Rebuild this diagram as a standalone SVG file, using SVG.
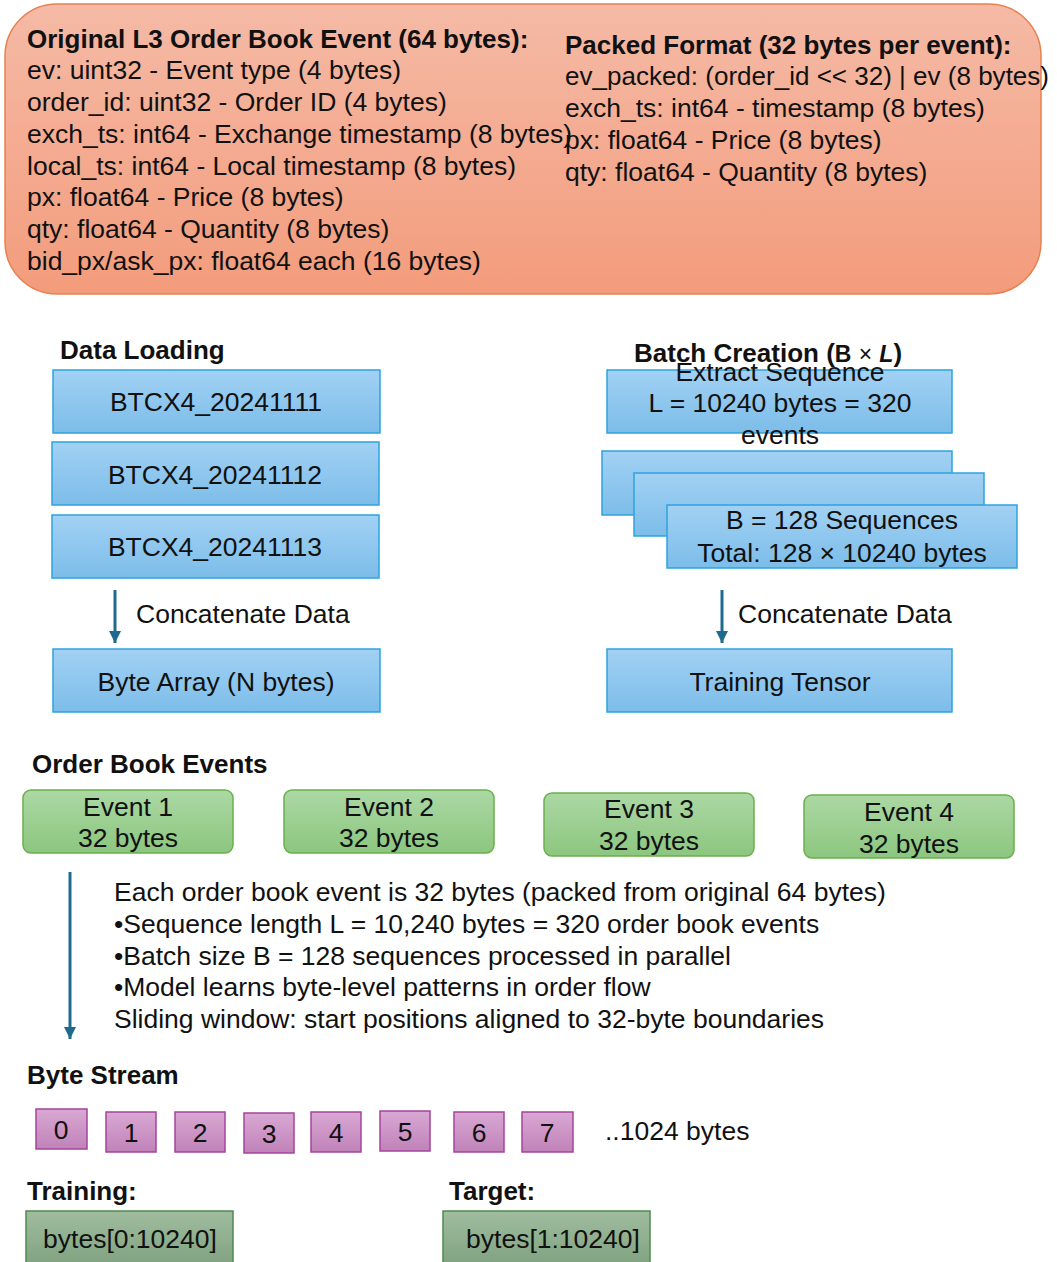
<svg xmlns="http://www.w3.org/2000/svg" width="1057" height="1262" viewBox="0 0 1057 1262">
<defs>
<linearGradient id="gOr" x1="0" y1="0" x2="0" y2="1"><stop offset="0" stop-color="#f5baa6"/><stop offset="1" stop-color="#f39c7c"/></linearGradient>
<linearGradient id="gBl" x1="0" y1="0" x2="0" y2="1"><stop offset="0" stop-color="#a2d1f4"/><stop offset="1" stop-color="#7cbde9"/></linearGradient>
<linearGradient id="gGr" x1="0" y1="0" x2="0" y2="1"><stop offset="0" stop-color="#acd8a4"/><stop offset="1" stop-color="#8cc67f"/></linearGradient>
<linearGradient id="gPu" x1="0" y1="0" x2="0" y2="1"><stop offset="0" stop-color="#d9a8d3"/><stop offset="1" stop-color="#c082b9"/></linearGradient>
<linearGradient id="gSg" x1="0" y1="0" x2="0" y2="1"><stop offset="0" stop-color="#a0bd9f"/><stop offset="1" stop-color="#7c9f7c"/></linearGradient>
<marker id="ah" viewBox="0 0 10 10" refX="10" refY="5" markerWidth="4" markerHeight="4" orient="auto" markerUnits="strokeWidth"><path d="M0,0 L10,5 L0,10 z" fill="#1f6a8f"/></marker>
</defs>
<style>
text{font-family:"Liberation Sans",Arial,sans-serif;font-size:26.5px;fill:#111}
.b{font-weight:bold;font-size:26px}
.m{text-anchor:middle}
.blue{fill:url(#gBl);stroke:#2ea3dd;stroke-width:1.5}
.green{fill:url(#gGr);stroke:#6ab04c;stroke-width:1.5}
.pur{fill:url(#gPu);stroke:#a5449c;stroke-width:1.5}
.sg{fill:url(#gSg);stroke:#4f8a4f;stroke-width:1.5}
.conn{stroke:#1f6a8f;stroke-width:3;fill:none;marker-end:url(#ah)}
</style>

<g id="event-format">
<rect x="5" y="4" width="1036" height="290" rx="52" fill="url(#gOr)" stroke="#e8804f" stroke-width="1.5"/>
<text x="27" y="48" class="b">Original L3 Order Book Event (64 bytes):</text>
<text x="27" y="79">ev: uint32 - Event type (4 bytes)</text>
<text x="27" y="111">order_id: uint32 - Order ID (4 bytes)</text>
<text x="27" y="143">exch_ts: int64 - Exchange timestamp (8 bytes)</text>
<text x="27" y="175">local_ts: int64 - Local timestamp (8 bytes)</text>
<text x="27" y="206">px: float64 - Price (8 bytes)</text>
<text x="27" y="238">qty: float64 - Quantity (8 bytes)</text>
<text x="27" y="270">bid_px/ask_px: float64 each (16 bytes)</text>
<text x="565" y="54" class="b">Packed Format (32 bytes per event):</text>
<text x="565" y="85" textLength="484" lengthAdjust="spacingAndGlyphs">ev_packed: (order_id &lt;&lt; 32) | ev (8 bytes)</text>
<text x="565" y="117">exch_ts: int64 - timestamp (8 bytes)</text>
<text x="565" y="149">px: float64 - Price (8 bytes)</text>
<text x="565" y="181">qty: float64 - Quantity (8 bytes)</text>
</g>

<g id="data-loading">
<text x="60" y="359" class="b">Data Loading</text>
</g>
<g id="file1"><rect x="53" y="370" width="327" height="63" class="blue"/><text x="216" y="411" class="m">BTCX4_20241111</text></g>
<g id="file2"><rect x="52" y="442" width="327" height="63" class="blue"/><text x="215" y="484" class="m">BTCX4_20241112</text></g>
<g id="file3"><rect x="52" y="515" width="327" height="63" class="blue"/><text x="215" y="556" class="m">BTCX4_20241113</text></g>
<g id="byte-array"><rect x="53" y="649" width="327" height="63" class="blue"/><text x="216" y="691" class="m">Byte Array (N bytes)</text></g>

<g id="batch-creation">
<text x="634" y="362" class="b">Batch Creation (<tspan font-size="23">B</tspan> <tspan font-size="23" font-weight="normal">×</tspan> <tspan font-size="23" font-style="italic">L</tspan>)</text>
</g>
<g id="extract-seq"><rect x="607" y="370" width="345" height="63" class="blue"/>
<text x="780" y="381" class="m">Extract Sequence</text>
<text x="780" y="412" class="m">L = 10240 bytes = 320</text>
<text x="780" y="444" class="m">events</text></g>
<g id="batch-stack">
<rect x="602" y="451" width="350" height="64" class="blue"/>
<rect x="634" y="473" width="350" height="63" class="blue"/>
<rect x="667" y="505" width="350" height="63" class="blue"/>
<text x="842" y="529" class="m">B = 128 Sequences</text>
<text x="842" y="562" class="m">Total: 128 × 10240 bytes</text>
</g>
<g id="training-tensor"><rect x="607" y="649" width="345" height="63" class="blue"/><text x="780" y="691" class="m">Training Tensor</text></g>

<g id="order-book-events"><text x="32" y="773" class="b">Order Book Events</text></g>
<g id="event1"><rect x="23" y="790" width="210" height="63" rx="8" class="green"/><text x="128" y="816" class="m">Event 1</text><text x="128" y="847" class="m">32 bytes</text></g>
<g id="event2"><rect x="284" y="790" width="210" height="63" rx="8" class="green"/><text x="389" y="816" class="m">Event 2</text><text x="389" y="847" class="m">32 bytes</text></g>
<g id="event3"><rect x="544" y="793" width="210" height="63" rx="8" class="green"/><text x="649" y="818" class="m">Event 3</text><text x="649" y="850" class="m">32 bytes</text></g>
<g id="event4"><rect x="804" y="795" width="210" height="63" rx="8" class="green"/><text x="909" y="821" class="m">Event 4</text><text x="909" y="853" class="m">32 bytes</text></g>

<g id="notes">
<text x="114" y="901">Each order book event is 32 bytes (packed from original 64 bytes)</text>
<text x="114" y="933">•Sequence length L = 10,240 bytes = 320 order book events</text>
<text x="114" y="965">•Batch size B = 128 sequences processed in parallel</text>
<text x="114" y="996">•Model learns byte-level patterns in order flow</text>
<text x="114" y="1028">Sliding window: start positions aligned to 32-byte boundaries</text>
</g>

<g id="byte-stream">
<text x="27" y="1084" class="b">Byte Stream</text>
<rect x="36" y="1109" width="51" height="40" class="pur"/><text x="61" y="1139" class="m">0</text>
<rect x="106" y="1112" width="50" height="40" class="pur"/><text x="131" y="1142" class="m">1</text>
<rect x="175" y="1112" width="50" height="40" class="pur"/><text x="200" y="1142" class="m">2</text>
<rect x="244" y="1113" width="50" height="40" class="pur"/><text x="269" y="1143" class="m">3</text>
<rect x="311" y="1112" width="50" height="40" class="pur"/><text x="336" y="1142" class="m">4</text>
<rect x="380" y="1111" width="50" height="40" class="pur"/><text x="405" y="1141" class="m">5</text>
<rect x="454" y="1112" width="50" height="40" class="pur"/><text x="479" y="1142" class="m">6</text>
<rect x="522" y="1112" width="51" height="40" class="pur"/><text x="547" y="1142" class="m">7</text>
<text x="605" y="1140">..1024 bytes</text>
</g>

<g id="training">
<text x="27" y="1200" class="b">Training:</text>
<rect x="26" y="1211" width="207" height="60" class="sg"/><text x="130" y="1248" class="m">bytes[0:10240]</text>
</g>
<g id="target">
<text x="449" y="1200" class="b">Target:</text>
<rect x="443" y="1211" width="207" height="60" class="sg"/><text x="553" y="1248" class="m">bytes[1:10240]</text>
</g>

<g id="connectors">
<line x1="115" y1="590" x2="115" y2="643" class="conn"/>
<text x="136" y="623">Concatenate Data</text>
<line x1="722" y1="590" x2="722" y2="643" class="conn"/>
<text x="738" y="623">Concatenate Data</text>
<line x1="70" y1="872" x2="70" y2="1039" class="conn"/>
</g>
</svg>
